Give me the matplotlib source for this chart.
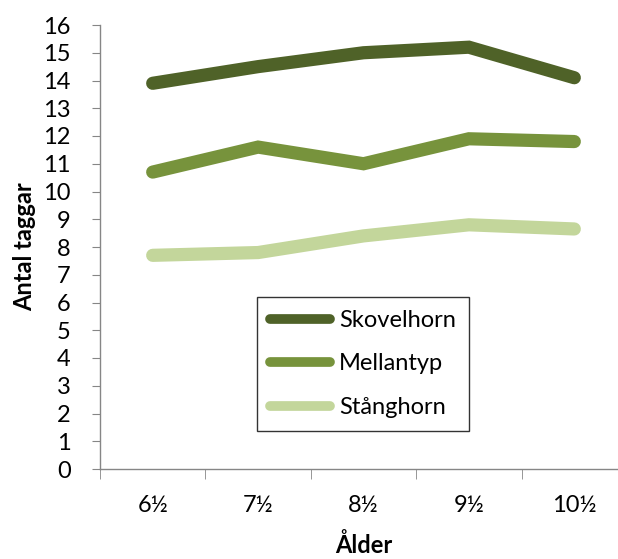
import matplotlib
matplotlib.use("Agg")
import matplotlib.pyplot as plt

# Data
ages = ["6½", "7½", "8½", "9½", "10½"]
skovelhorn = [13.9, 14.5, 15.0, 15.2, 14.1]
mellantyp = [10.7, 11.6, 11.0, 11.9, 11.8]
stanghorn = [7.7, 7.8, 8.4, 8.8, 8.65]

series = [
    ("Skovelhorn", skovelhorn, "#4F6228"),
    ("Mellantyp", mellantyp, "#77933C"),
    ("Stånghorn", stanghorn, "#C3D69B"),
]

plt.rcParams["font.family"] = ["Lato", "DejaVu Sans"]
FS = 17

W, H = 618, 559
fig = plt.figure(figsize=(W / 100, H / 100), dpi=100)
# axes spans x 100..627 px, y 25..469 px
ax = fig.add_axes([100 / W, 1 - 469 / H, (627 - 100) / W, (469 - 25) / H])

x = list(range(len(ages)))
for name, vals, col in series:
    ax.plot(x, vals, color=col, lw=9.5, solid_capstyle="round",
            solid_joinstyle="miter", label=name)

ax.set_xlim(-0.5, len(ages) - 0.5)
ax.set_ylim(0, 16)
ax.set_yticks(range(0, 17))
ax.set_xticks(x)
ax.set_xticklabels(ages)
ax.set_xticks([i - 0.5 for i in range(len(ages) + 1)], minor=True)

gray = "#868686"
for s in ["top", "right"]:
    ax.spines[s].set_visible(False)
for s in ["left", "bottom"]:
    ax.spines[s].set_color(gray)
    ax.spines[s].set_linewidth(1.0)

ax.tick_params(axis="y", direction="out", length=6, color=gray, labelsize=FS,
               pad=15)
ax.tick_params(axis="x", which="major", length=0, labelsize=FS, pad=19)
ax.tick_params(axis="x", which="minor", direction="out", length=7, color=gray)

ax.set_ylabel("Antal taggar", fontsize=FS, fontweight="bold", labelpad=5)
ax.set_xlabel("Ålder", fontsize=FS, fontweight="bold", labelpad=12)

leg = ax.legend(loc="upper left", bbox_to_anchor=(257 / W, 1 - 297 / H),
                bbox_transform=fig.transFigure, frameon=True, fancybox=False,
                fontsize=FS, handlelength=2.55, handletextpad=0.38,
                labelspacing=0.95, borderpad=0.55, borderaxespad=0)
leg.get_frame().set_edgecolor("black")
leg.get_frame().set_linewidth(1.0)
for h in leg.get_lines():
    h.set_solid_capstyle("round")
    h.set_linewidth(7)

fig.savefig("out.png", dpi=100)
